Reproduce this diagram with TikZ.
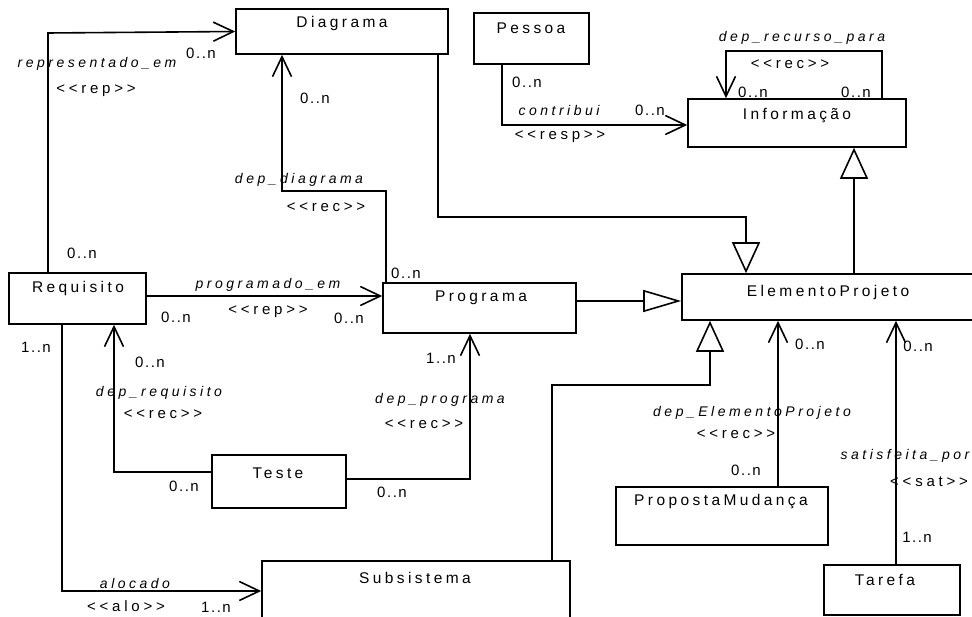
\documentclass[tikz,border=0pt]{standalone}
\usepackage{fontspec}
\setmainfont[Ligatures=TeXOff]{Liberation Sans}
\newfontfamily\classfont[Ligatures=TeXOff,LetterSpace=22]{Liberation Sans}
\newfontfamily\rolefont[Ligatures=TeXOff,LetterSpace=25]{Liberation Sans}
\newfontfamily\multfont[Ligatures=TeXOff,LetterSpace=10]{Liberation Sans}
\usetikzlibrary{arrows.meta}

\begin{document}
\begin{tikzpicture}[x=1pt,y=-1pt,
  box/.style={draw, line width=1.6pt, rectangle, inner sep=0pt},
  cname/.style={font=\classfont\fontsize{15.5}{15.5}\selectfont, inner sep=0pt},
  role/.style={font=\rolefont\itshape\fontsize{14}{14}\selectfont, inner sep=0pt},
  stereo/.style={font=\rolefont\fontsize{15}{15}\selectfont, inner sep=0pt},
  mult/.style={font=\multfont\fontsize{15}{15}\selectfont, inner sep=0pt},
  conn/.style={line width=1.6pt},
  assoc/.style={conn, -{Straight Barb[length=20pt,width=19pt]}},
  genv/.style={conn, -{Triangle[open,length=31pt,width=28pt]}},
  genh/.style={conn, -{Triangle[open,length=38pt,width=22pt]}},
]
\useasboundingbox (0,0) rectangle (972,617);
\begin{scope}
\clip (0,0) rectangle (972,617);

% classes
\node[box, minimum width=212pt, minimum height=45pt] (diag) at (342,31.5) {};
\node[box, minimum width=115pt, minimum height=51pt] (pess) at (531.5,38.5) {};
\node[box, minimum width=218pt, minimum height=48pt] (info) at (797,123) {};
\node[box, minimum width=137pt, minimum height=51pt] (req) at (77.5,298.5) {};
\node[box, minimum width=193pt, minimum height=50pt] (prog) at (479.5,308) {};
\node[box, minimum width=303pt, minimum height=46pt] (elem) at (833.5,297) {};
\node[box, minimum width=134pt, minimum height=53pt] (test) at (279,481.5) {};
\node[box, minimum width=212pt, minimum height=58pt] (prop) at (722,516) {};
\node[box, minimum width=308pt, minimum height=90pt] (subs) at (416,606) {};
\node[box, minimum width=136pt, minimum height=50pt] (tare) at (892,590) {};

\node[cname] (diag-n) at (342,23) {Diagrama};
\node[cname] (pess-n) at (531,28) {Pessoa};
\node[cname] (info-n) at (797,116) {Informação};
\node[cname] (req-n)  at (78,288) {Requisito};
\node[cname] (prog-n) at (481,298) {Programa};
\node[cname] (elem-n) at (828,292) {ElementoProjeto};
\node[cname] (test-n) at (278,473) {Teste};
\node[cname] (prop-n) at (721,502) {PropostaMudança};
\node[cname] (subs-n) at (415,578) {Subsistema};
\node[cname] (tare-n) at (885,580) {Tarefa};

% bend points
\coordinate (rep) at (48,33);
\coordinate (dd1) at (386,191);
\coordinate (dd2) at (282,191);
\coordinate (pm) at (0,296);
\coordinate (dr) at (114,472);
\coordinate (dp) at (470,479);
\coordinate (al) at (62,591);
\coordinate (ct) at (502,125);
\coordinate (lp1) at (882,51);
\coordinate (lp2) at (726,51);
\coordinate (g1) at (438,217);
\coordinate (g2) at (746,217);
\coordinate (g3) at (854,0);
\coordinate (pg) at (0,301);
\coordinate (s1) at (552,385);
\coordinate (s2) at (710,385);
\coordinate (de) at (778,0);
\coordinate (sp) at (896,0);

% associations
\draw[assoc] (req.north -| rep) -- (rep) -- (diag.west);
\draw[assoc] (prog.north -| dd1) -- (dd1) -- (dd2) -- (dd2 |- diag.south);
\draw[assoc] (req.east |- pm) -- (prog.west |- pm);
\draw[assoc] (test.west |- dr) -- (dr) -- (dr |- req.south);
\draw[assoc] (test.east |- dp) -- (dp) -- (dp |- prog.south);
\draw[assoc] (req.south -| al) -- (al) -- (subs.west |- al);
\draw[assoc] (pess.south -| ct) -- (ct) -- (info.west |- ct);
\draw[assoc] (info.north -| lp1) -- (lp1) -- (lp2) -- (lp2 |- info.north);
\draw[assoc] (prop.north -| de) -- (elem.south -| de);
\draw[assoc] (tare.north -| sp) -- (elem.south -| sp);

% generalizations
\draw[genv] (diag.south -| g1) -- (g1) -- (g2) -- (g2 |- elem.north);
\draw[genv] (elem.north -| g3) -- (info.south -| g3);
\draw[genh] (prog.east |- pg) -- (elem.west |- pg);
\draw[genv] (subs.north -| s1) -- (s1) -- (s2) -- (s2 |- elem.south);
\end{scope}

% representado_em
\node[role]   (l-rep)  at (97,64) {representado\_em};
\node[stereo] (s-rep)  at (96,91) {<<rep>>};
\node[mult]   (m-rep1) at (201,53) {0..n};
\node[mult]   (m-rep2) at (82,253) {0..n};
% dep_diagrama
\node[mult]   (m-dd1) at (315,98) {0..n};
\node[role]   (l-dd)  at (299,180) {dep\_diagrama};
\node[stereo] (s-dd)  at (326,207) {<<rec>>};
\node[mult]   (m-dd2) at (406,273) {0..n};
% programado_em
\node[role]   (l-pm)  at (268,285) {programado\_em};
\node[stereo] (s-pm)  at (268,312) {<<rep>>};
\node[mult]   (m-pm1) at (176,317) {0..n};
\node[mult]   (m-pm2) at (349,318) {0..n};
% dep_requisito
\node[mult]   (m-dr1) at (150,362) {0..n};
\node[role]   (l-dr)  at (159,393) {dep\_requisito};
\node[stereo] (s-dr)  at (163,414) {<<rec>>};
\node[mult]   (m-dr2) at (184,486) {0..n};
% dep_programa
\node[mult]   (m-dp1) at (441,358) {1..n};
\node[role]   (l-dp)  at (440,400) {dep\_programa};
\node[stereo] (s-dp)  at (424,424) {<<rec>>};
\node[mult]   (m-dp2) at (392,492) {0..n};
% alocado
\node[mult]   (m-al1) at (36,347) {1..n};
\node[role]   (l-al)  at (135,583) {alocado};
\node[stereo] (s-al)  at (126,606) {<<alo>>};
\node[mult]   (m-al2) at (216,607) {1..n};
% contribui
\node[mult]   (m-ct1) at (527,82) {0..n};
\node[role]   (l-ct)  at (559,110) {contribui};
\node[stereo] (s-ct)  at (560,137) {<<resp>>};
\node[mult]   (m-ct2) at (650,110) {0..n};
% dep_recurso_para
\node[role]   (l-lp)  at (802,38) {dep\_recurso\_para};
\node[stereo] (s-lp)  at (790,64) {<<rec>>};
\node[mult]   (m-lp1) at (753,92) {0..n};
\node[mult]   (m-lp2) at (856,92) {0..n};
% dep_ElementoProjeto
\node[mult]   (m-de1) at (810,344) {0..n};
\node[role]   (l-de)  at (752,413) {dep\_ElementoProjeto};
\node[stereo] (s-de)  at (736,434) {<<rec>>};
\node[mult]   (m-de2) at (746,470) {0..n};
% satisfeita_por
\node[mult]   (m-sp1) at (918,346) {0..n};
\node[role]   (l-sp)  at (905,456) {satisfeita\_por};
\node[stereo] (s-sp)  at (929,482) {<<sat>>};
\node[mult]   (m-sp2) at (917,537) {1..n};
\end{tikzpicture}
\end{document}
